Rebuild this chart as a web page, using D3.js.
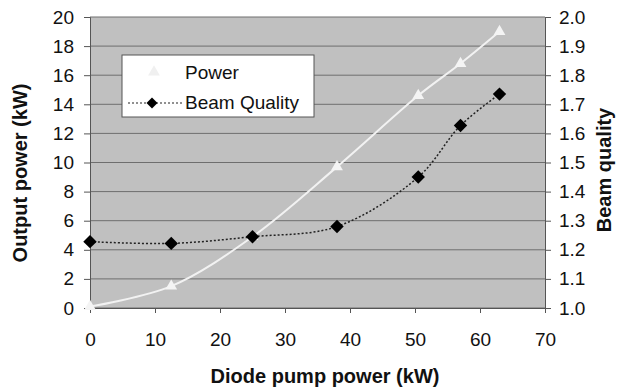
<!DOCTYPE html>
<html><head><meta charset="utf-8">
<script src="https://cdn.jsdelivr.net/npm/d3@7"></script>
<style>body{margin:0;background:#fff}svg{display:block}text{font-family:"Liberation Sans",Arial,sans-serif}</style>
</head><body><svg id="c" width="618" height="392"></svg>
<script>
const pumpPower = [0, 12.5, 25, 38, 50.5, 57, 63];
const outputPower = [0.1, 1.5, 4.9, 9.7, 14.6, 16.8, 19.0];
const beamQuality = [1.228, 1.222, 1.245, 1.28, 1.45, 1.627, 1.735];
const xTicks = [0,10,20,30,40,50,60,70];
const yLeftTicks = [0,2,4,6,8,10,12,14,16,18,20];
const yRightTicks = [1.0,1.1,1.2,1.3,1.4,1.5,1.6,1.7,1.8,1.9,2.0];
const seriesNames = ["Power","Beam Quality"];

const svg = d3.select("#c");
const L=90,R=545,T=17,B=308;
const x = d3.scaleLinear().domain([0,70]).range([L,R]);
const yL = d3.scaleLinear().domain([0,20]).range([B,T]);
const yR = d3.scaleLinear().domain([1,2]).range([B,T]);

svg.append("rect").attr("x",L).attr("y",T).attr("width",R-L).attr("height",B-T).attr("fill","#c0c0c0");
svg.append("g").selectAll("line").data(yLeftTicks).join("line")
  .attr("x1",L).attr("x2",R).attr("y1",d=>yL(d)).attr("y2",d=>yL(d))
  .attr("stroke","#6e6e6e").attr("stroke-width",1);

const gl = svg.append("g").attr("transform",`translate(${L},0)`)
  .call(d3.axisLeft(yL).tickValues(yLeftTicks).tickSize(6).tickPadding(10).tickFormat(d3.format("d")));
const gr = svg.append("g").attr("transform",`translate(${R},0)`)
  .call(d3.axisRight(yR).tickValues(yRightTicks).tickSize(6).tickPadding(8).tickFormat(d3.format(".1f")));
const gb = svg.append("g").attr("transform",`translate(0,${B})`)
  .call(d3.axisBottom(x).tickValues(xTicks).tickSize(5).tickPadding(20).tickFormat(d3.format("d")));
[gl,gr,gb].forEach(g=>{
  g.selectAll("path").attr("stroke","#555");
  g.selectAll("line").attr("stroke","#555");
  g.selectAll("text").attr("font-size",19).attr("fill","#111").attr("font-family","Liberation Sans, Arial, sans-serif");
});

const lineP = d3.line().x((d,i)=>x(pumpPower[i])).y(d=>yL(d)).curve(d3.curveCatmullRom.alpha(0.5));
svg.append("path").datum(outputPower).attr("d",lineP).attr("fill","none").attr("stroke","#f2f2f2").attr("stroke-width",2);
const tri = d3.symbol().type(d3.symbolTriangle).size(60);
svg.append("g").selectAll("path").data(outputPower).join("path")
  .attr("d",tri).attr("transform",(d,i)=>`translate(${x(pumpPower[i])},${yL(d)})`)
  .attr("fill","#f4f4f4");

const lineB = d3.line().x((d,i)=>x(pumpPower[i])).y(d=>yR(d)).curve(d3.curveCatmullRom.alpha(0.5));
svg.append("path").datum(beamQuality).attr("d",lineB).attr("fill","none").attr("stroke","#222").attr("stroke-width",1.5).attr("stroke-dasharray","2,2");
const dia = d3.symbol().type(d3.symbolSquare).size(90);
svg.append("g").selectAll("path").data(beamQuality).join("path")
  .attr("d",dia).attr("transform",(d,i)=>`translate(${x(pumpPower[i])},${yR(d)}) rotate(45)`)
  .attr("fill","#000");

const lg = svg.append("g");
lg.append("rect").attr("x",122).attr("y",55).attr("width",192).attr("height",62).attr("fill","#fff").attr("stroke","#555").attr("stroke-width",1);
lg.append("path").attr("d",tri).attr("transform","translate(154,72)").attr("fill","#f0f0f0");
lg.append("line").attr("x1",128).attr("x2",182).attr("y1",103).attr("y2",103).attr("stroke","#222").attr("stroke-width",1.2).attr("stroke-dasharray","2,2");
lg.append("path").attr("d",d3.symbol().type(d3.symbolSquare).size(60)).attr("transform","translate(152,103) rotate(45)").attr("fill","#000");
lg.selectAll("text.lt").data(seriesNames).join("text").attr("class","lt")
  .attr("x",185).attr("y",(d,i)=>79+i*30).attr("font-size",19).attr("fill","#111").text(d=>d);

svg.append("text").attr("x",325).attr("y",383).attr("text-anchor","middle").attr("font-size",20).attr("font-weight","bold").attr("fill","#111").text("Diode pump power (kW)");
svg.append("text").attr("transform","translate(27,173) rotate(-90)").attr("text-anchor","middle").attr("font-size",20).attr("font-weight","bold").attr("fill","#111").text("Output power (kW)");
svg.append("text").attr("transform","translate(611,170) rotate(-90)").attr("text-anchor","middle").attr("font-size",20).attr("font-weight","bold").attr("fill","#111").text("Beam quality");
</script></body></html>
